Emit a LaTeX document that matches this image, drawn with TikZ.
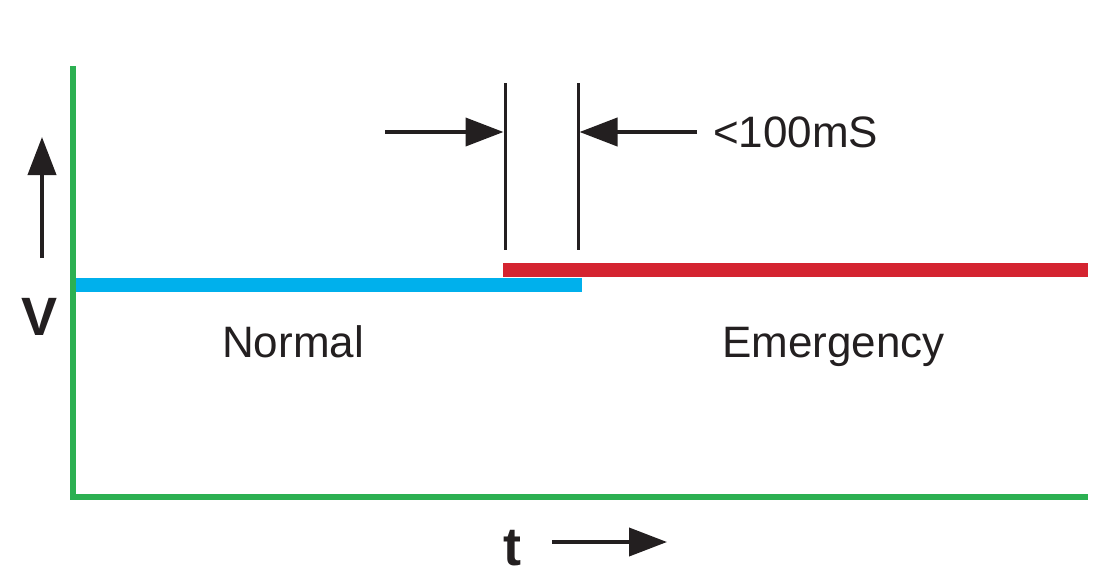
\documentclass[tikz,border=0pt]{standalone}
\usepackage{fontspec}
\setmainfont{Liberation Sans}
\usetikzlibrary{arrows.meta, positioning}
\definecolor{axisgreen}{RGB}{44,176,82}
\definecolor{normblue}{RGB}{0,176,236}
\definecolor{emred}{RGB}{212,36,48}
\definecolor{inkdark}{RGB}{35,31,32}
\tikzset{
  axisline/.style={line width=6pt, color=axisgreen},
  supply/.style={line width=13.5pt},
  timemark/.style={line width=3pt, color=inkdark},
  pointer/.style={-{Triangle[length=38pt,width=28pt]}, line width=4pt, color=inkdark},
  lbltext/.style={font=\fontsize{44}{50}\selectfont, color=inkdark, inner sep=0pt},
  axistext/.style={font=\fontsize{54}{60}\selectfont\bfseries, color=inkdark, inner sep=0pt}
}

\begin{document}
\begin{tikzpicture}[x=1pt, y=-1pt]
  \useasboundingbox (0,0) rectangle (1116,587);

  % Axes
  \coordinate (ytop) at (73,66);
  \coordinate (origin) at (73,497);
  \coordinate (xend) at (1088,497);
  \draw[axisline] (ytop) -- (origin) -- (xend);

  % Normal and emergency supply
  \coordinate (nstart) at (76,285);
  \coordinate (nend) at (582,285);
  \coordinate (estart) at (503,270);
  \coordinate (eend) at (1088,270);
  \draw[supply, normblue] (nstart) -- (nend);
  \draw[supply, emred] (estart) -- (eend);

  % Changeover window
  \coordinate (m1top) at (505,83);
  \coordinate (m1bot) at (505,250);
  \coordinate (m2top) at (578,83);
  \coordinate (m2bot) at (578,250);
  \draw[timemark] (m1top) -- (m1bot);
  \draw[timemark] (m2top) -- (m2bot);
  \coordinate (arrL) at (385,132);
  \coordinate (arrR) at (697,132);
  \draw[pointer, shorten >=1.5pt] (arrL) -- (m1top |- arrL);
  \draw[pointer, shorten >=1.5pt] (arrR) -- (m2top |- arrR);
  \node[lbltext, anchor=base west] (delay) at (713,147) {<100mS};

  % Labels
  \node[lbltext, anchor=base west] (normal) at (222,357) {Normal};
  \node[lbltext, anchor=base west] (emergency) at (722,357) {Emergency};

  % Axis labels
  \node[axistext, anchor=base] (vlabel) at (40,335) {V};
  \coordinate (vtail) at (42,258);
  \coordinate (vtip) at (42,137);
  \draw[pointer] (vtail) -- (vtip);
  \node[axistext, anchor=base] (tlabel) at (512,565) {t};
  \coordinate (ttail) at (552,542);
  \coordinate (ttip) at (667,542);
  \draw[pointer] (ttail) -- (ttip);
\end{tikzpicture}
\end{document}
